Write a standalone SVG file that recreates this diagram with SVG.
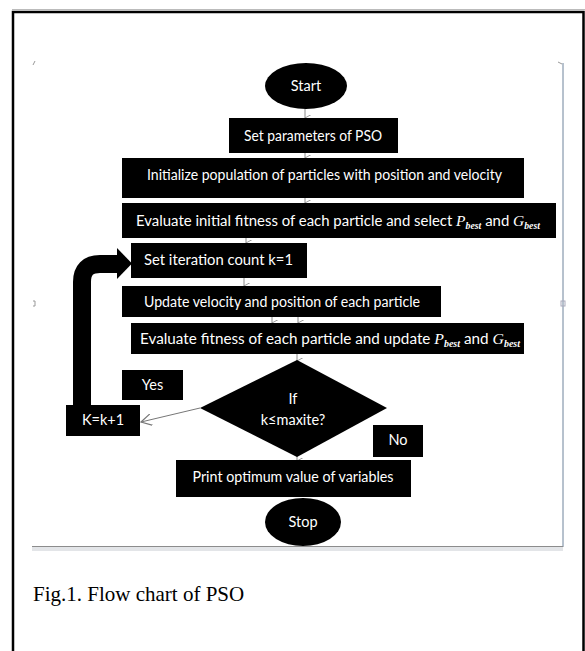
<svg xmlns="http://www.w3.org/2000/svg" width="585" height="651" viewBox="0 0 585 651">
<style>
.box{fill:#000}
.t{font-family:Lato,"Noto Sans",sans-serif;font-size:14.5px;fill:#fff;text-anchor:middle}
.it{font-family:"Liberation Serif",serif;font-style:italic;font-size:15px}
.sub{font-size:9.5px;font-weight:bold}
.ar{stroke:#8a8a8a;stroke-width:1;fill:none}
.cap{font-family:"Liberation Serif","Times New Roman",serif;font-size:21px;fill:#000}
</style>
<defs>
<marker id="v" viewBox="0 0 10 10" refX="5" refY="9" markerWidth="7" markerHeight="7" orient="auto-start-reverse" markerUnits="userSpaceOnUse">
<path d="M0,0 L5,9 L10,0" fill="none" stroke="#8a8a8a" stroke-width="1.2"/>
</marker>
<marker id="va" viewBox="0 0 10 10" refX="9" refY="5" markerWidth="12" markerHeight="12" orient="auto" markerUnits="userSpaceOnUse">
<path d="M0,0 L9,5 L0,10" fill="none" stroke="#777" stroke-width="1"/>
</marker>
</defs>
<rect width="585" height="651" fill="#fff"/>
<line x1="12" y1="9.5" x2="585" y2="9.5" stroke="#bbb" stroke-width="1"/>
<rect x="13" y="12" width="570.5" height="660" fill="none" stroke="#000" stroke-width="2.5"/>
<g id="frame">
<line x1="563" y1="63" x2="563" y2="547" stroke="#6f849c" stroke-width="1"/>
<rect x="32" y="547" width="531" height="4" fill="#e3e5e8"/>
<line x1="32" y1="546.5" x2="563" y2="546.5" stroke="#8c8c8c" stroke-width="1"/>
<path d="M33,65 L35,61" stroke="#999" stroke-width="1"/>
<path d="M558,62 L562,64" stroke="#999" stroke-width="1"/>
<path d="M33,301 h2 v5 h-2" stroke="#999" stroke-width="1" fill="none"/>
<rect x="561" y="301" width="4" height="5" fill="none" stroke="#aab" stroke-width="1"/>
</g>
<g id="connectors">
<line class="ar" x1="305" y1="108" x2="305" y2="118" marker-end="url(#v)"/>
<line class="ar" x1="305" y1="151" x2="305" y2="158" marker-end="url(#v)"/>
<line class="ar" x1="305" y1="196" x2="305" y2="203" marker-end="url(#v)"/>
<line class="ar" x1="246" y1="236" x2="246" y2="243" marker-end="url(#v)"/>
<line class="ar" x1="244" y1="276" x2="244" y2="286" marker-end="url(#v)"/>
<line class="ar" x1="272" y1="315" x2="272" y2="323" marker-end="url(#v)"/>
<line class="ar" x1="298" y1="315" x2="298" y2="323" marker-end="url(#v)"/>
<line class="ar" x1="297" y1="352" x2="297" y2="361" marker-end="url(#v)"/>
<line class="ar" x1="297" y1="455" x2="297" y2="461" marker-end="url(#v)"/>
<line x1="200" y1="408" x2="141" y2="422" stroke="#777" stroke-width="1" marker-end="url(#va)"/>
<path d="M82,406 V282 Q82,264 100,264 H119" fill="none" stroke="#000" stroke-width="18"/>
<polygon points="117,248 132,263.5 117,279" fill="#000"/>
</g>
<g id="start">
<ellipse cx="306" cy="86" rx="41" ry="23" class="box"/>
<text class="t" x="306" y="91">Start</text>
</g>
<g id="setparams">
<rect x="229" y="118" width="169" height="35" class="box"/>
<text class="t" x="313" y="141" textLength="138" lengthAdjust="spacingAndGlyphs">Set parameters of PSO</text>
</g>
<g id="init">
<rect x="122" y="158" width="402" height="40" class="box"/>
<text class="t" x="324.5" y="180" textLength="355" lengthAdjust="spacingAndGlyphs">Initialize population  of particles with position  and velocity</text>
</g>
<g id="evalinit">
<rect x="122" y="203" width="434" height="35" class="box"/>
<text class="t" x="338" y="226" textLength="404" lengthAdjust="spacingAndGlyphs">Evaluate initial fitness of each particle and select <tspan class="it">P</tspan><tspan class="it sub" dy="3">best</tspan><tspan dy="-3">  and </tspan><tspan class="it">G</tspan><tspan class="it sub" dy="3">best</tspan></text>
</g>
<g id="setiter">
<rect x="131" y="243" width="176" height="35" class="box"/>
<text class="t" x="218.5" y="265" textLength="149" lengthAdjust="spacingAndGlyphs">Set iteration count k=1</text>
</g>
<g id="update">
<rect x="122" y="286" width="319" height="31" class="box"/>
<text class="t" x="282" y="307" textLength="276" lengthAdjust="spacingAndGlyphs">Update velocity and position of each particle</text>
</g>
<g id="evalfit">
<rect x="131" y="323" width="393" height="31" class="box"/>
<text class="t" x="330" y="344" textLength="380" lengthAdjust="spacingAndGlyphs">Evaluate fitness of each particle and update <tspan class="it">P</tspan><tspan class="it sub" dy="3">best</tspan><tspan dy="-3"> and </tspan><tspan class="it">G</tspan><tspan class="it sub" dy="3">best</tspan></text>
</g>
<g id="decision">
<polygon points="297,360 387,408 297,457 200,408" class="box"/>
<text class="t" x="293" y="404">If</text>
<text class="t" x="293" y="425">k≤maxite?</text>
</g>
<g id="yes">
<rect x="122" y="370" width="61" height="30" class="box"/>
<text class="t" x="152.5" y="390">Yes</text>
</g>
<g id="kinc">
<rect x="66" y="405" width="74" height="31" class="box"/>
<text class="t" x="103" y="425">K=k+1</text>
</g>
<g id="no">
<rect x="373" y="425" width="50" height="32" class="box"/>
<text class="t" x="398" y="445">No</text>
</g>
<g id="print">
<rect x="176" y="460" width="235" height="37" class="box"/>
<text class="t" x="293" y="482" textLength="201" lengthAdjust="spacingAndGlyphs">Print optimum  value of variables</text>
</g>
<g id="stop">
<ellipse cx="303" cy="522" rx="38" ry="24" class="box"/>
<text class="t" x="303" y="527">Stop</text>
</g>
<text class="cap" x="33" y="601">Fig.1. Flow chart of PSO</text>
</svg>
